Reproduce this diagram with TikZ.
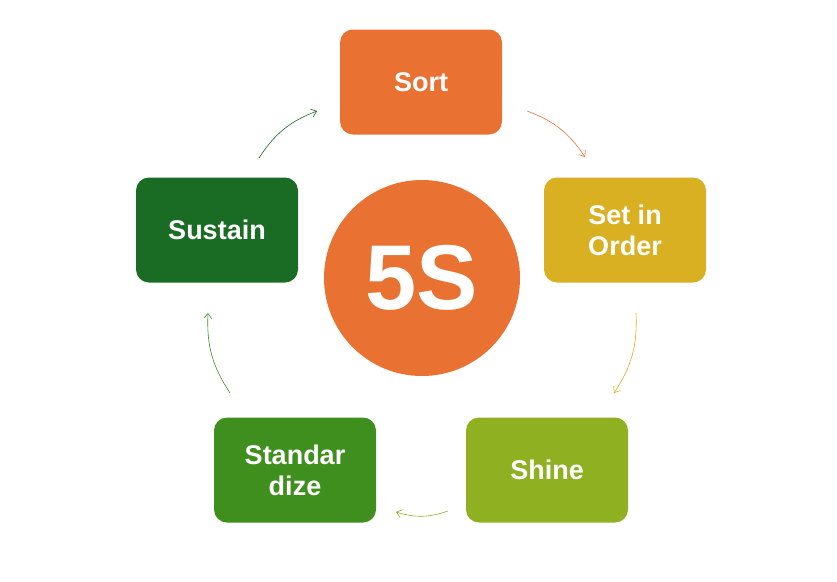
\documentclass[tikz,border=0pt]{standalone}
\usepackage{fontspec}
\setmainfont{Liberation Sans}
\usetikzlibrary{arrows.meta}
\definecolor{cSort}{HTML}{E97132}
\definecolor{cSet}{HTML}{D8B021}
\definecolor{cShine}{HTML}{8FB021}
\definecolor{cStd}{HTML}{3F8F1E}
\definecolor{cSus}{HTML}{1A6B24}
\begin{document}
\begin{tikzpicture}[x=1pt,y=-1pt,
  box/.style={rounded corners=13pt,minimum width=162pt,minimum height=105pt,text=white,font=\fontsize{27}{31}\selectfont\bfseries,align=center,inner sep=0pt},
  arr/.style={line width=0.6pt,-{Straight Barb[length=5pt,width=8pt]},bend left=18}]
\useasboundingbox (0,0) rectangle (837,581);
\node[box,fill=cSort] (sort) at (421,82) {Sort};
\node[box,fill=cSet] (set) at (625,230) {Set in\\Order};
\node[box,fill=cShine] (shine) at (547,470) {Shine};
\node[box,fill=cStd] (std) at (295,470) {Standar\\dize};
\node[box,fill=cSus] (sus) at (217,230) {Sustain};
\node[circle,fill=cSort,minimum size=196pt,text=white,font=\fontsize{92}{92}\selectfont\bfseries] (c) at (422,278) {5S};
\coordinate (a1) at (527,111); \coordinate (b1) at (585,157);
\coordinate (a2) at (636,313); \coordinate (b2) at (614,393);
\coordinate (a3) at (448,511); \coordinate (b3) at (396,512);
\coordinate (a4) at (230,393); \coordinate (b4) at (208,313);
\coordinate (a5) at (259,158); \coordinate (b5) at (317,111);
\draw[arr,cSort] (a1) to (b1);
\draw[arr,cSet] (a2) to (b2);
\draw[arr,cShine] (a3) to (b3);
\draw[arr,cStd] (a4) to (b4);
\draw[arr,cSus] (a5) to (b5);
\end{tikzpicture}
\end{document}
